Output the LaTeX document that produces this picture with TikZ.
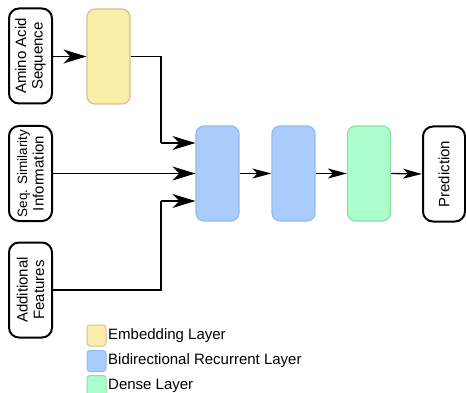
\documentclass[tikz,border=0pt]{standalone}
\usepackage{fontspec}
\setmainfont{Liberation Sans}
\usetikzlibrary{arrows.meta}
\definecolor{embfill}{RGB}{250,238,170}
\definecolor{embline}{RGB}{214,192,140}
\definecolor{rnnfill}{RGB}{169,204,252}
\definecolor{rnnline}{RGB}{150,186,236}
\definecolor{densefill}{RGB}{170,255,204}
\definecolor{denseline}{RGB}{140,222,162}
\tikzset{
  iobox/.style={draw=black, line width=2pt, rounded corners=10pt, minimum width=43pt, minimum height=95pt, inner sep=0pt},
  layerbox/.style={line width=1.2pt, rounded corners=8pt, minimum width=43pt, minimum height=95pt, inner sep=0pt},
  swatch/.style={line width=1pt, rounded corners=3pt, minimum width=19pt, minimum height=21pt, inner sep=0pt},
  vtext/.style={rotate=90, align=center, font=\fontsize{15}{16.5}\selectfont},
  legtext/.style={anchor=west, inner sep=0pt, font=\fontsize{15}{18}\selectfont},
  bigarrow/.style={line width=1.3pt, -{Stealth[length=23pt, width=14pt, inset=7pt]}},
  smallarrow/.style={line width=1.3pt, -{Stealth[length=19pt, width=10pt, inset=5pt]}},
  link/.style={line width=1.3pt}
}
\begin{document}
\begin{tikzpicture}[x=1pt, y=-1pt]
\useasboundingbox (0,0) rectangle (466,393);
\clip (0,0) rectangle (466,393);

% inputs
\node[iobox] (aa) at (30.5,56) {};
\node[vtext] (aatxt) at (aa.center) {Amino Acid\\Sequence};
\node[iobox] (ss) at (30.5,173.5) {};
\node[vtext] (sstxt) at (ss.center) {{\fontsize{13.5}{15}\selectfont Seq. Similarity}\\Information};
\node[iobox] (af) at (30.5,290) {};
\node[vtext] (aftxt) at (af.center) {Additional\\Features};

% layers
\node[layerbox, draw=embline, fill=embfill] (emb) at (108.5,56.5) {};
\node[layerbox, draw=rnnline, fill=rnnfill] (rnnA) at (217.5,173.5) {};
\node[layerbox, draw=rnnline, fill=rnnfill] (rnnB) at (293.5,173.5) {};
\node[layerbox, draw=denseline, fill=densefill] (dense) at (369,173.5) {};

% output
\node[iobox, minimum width=42pt] (pred) at (444,174) {};
\node[vtext] (predtxt) at (pred.center) {Prediction};

% connectors
\coordinate (jtop) at (161,143);
\coordinate (jbot) at (161,201);
\draw[bigarrow] (aa.east |- emb.west) -- (emb.west);
\draw[link] (emb.east) -| (jtop);
\draw[bigarrow] (jtop) -- (jtop -| rnnA.west);
\draw[bigarrow] (ss.east |- rnnA.west) -- (rnnA.west);
\draw[link] (af.east) -| (jbot);
\draw[bigarrow] (jbot) -- (jbot -| rnnA.west);
\draw[smallarrow] (rnnA.east) -- (rnnB.west);
\draw[smallarrow] (rnnB.east) -- (dense.west);
\draw[smallarrow] (dense.east) -- (pred.west);

% legend
\node[swatch, draw=embline, fill=embfill] (k1) at (96.5,335.5) {};
\node[legtext] (l1) at (108,336) {Embedding Layer};
\node[swatch, draw=rnnline, fill=rnnfill] (k2) at (96.5,361) {};
\node[legtext] (l2) at (108,361) {Bidirectional Recurrent Layer};
\node[swatch, draw=denseline, fill=densefill] (k3) at (96.5,386) {};
\node[legtext] (l3) at (108,385.5) {Dense Layer};
\end{tikzpicture}
\end{document}
